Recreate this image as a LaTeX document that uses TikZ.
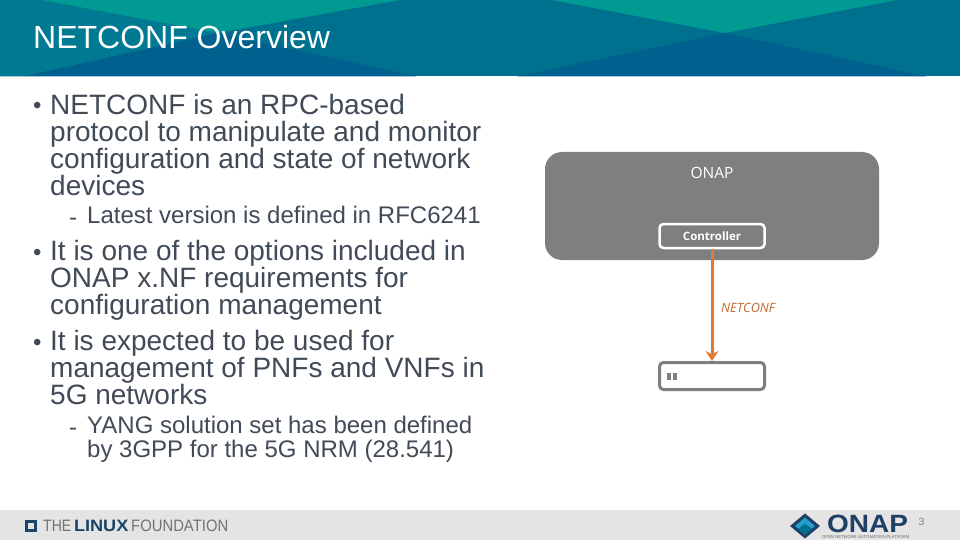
\documentclass[tikz,border=0pt]{standalone}
\usepackage{fontspec}
\setmainfont{Liberation Sans}
\newfontfamily\uifont{Open Sans}
\usepackage{tikz}
\usetikzlibrary{arrows.meta}
\definecolor{hdrbase}{HTML}{00708F}
\definecolor{hdrside}{HTML}{007A92}
\definecolor{hdrlight}{HTML}{009A93}
\definecolor{hdrdark}{HTML}{00608E}
\definecolor{slate}{HTML}{414B57}
\definecolor{boxgray}{HTML}{7F7F7F}
\definecolor{footgray}{HTML}{E4E4E4}
\definecolor{arroworange}{HTML}{E07B35}
\definecolor{lfblue}{HTML}{17456B}
\definecolor{onapnavy}{HTML}{1F3F66}

\begin{document}
\begin{tikzpicture}[x=1pt,y=-1pt,
    body/.style={inner sep=0, anchor=north west, align=left, text=slate, font=\fontsize{28}{27}\selectfont},
    sub/.style={inner sep=0, anchor=north west, align=left, text=slate, font=\fontsize{24}{24}\selectfont},
    bulletmark/.style={inner sep=0, anchor=base west, text=slate, font=\fontsize{24}{24}\selectfont},
    dashmark/.style={inner sep=0, anchor=base west, text=slate, font=\fontsize{24}{24}\selectfont},
    devicebox/.style={draw=boxgray, line width=3pt, rounded corners=4pt, minimum width=105pt, inner sep=0},
    ]
    \useasboundingbox (0,0) rectangle (960,540);
    % Header
    \fill[hdrbase] (0,0) rectangle (960,76.5);
    \fill[hdrside] (0,0) -- (42,0) -- (218,33) -- (23,76.5) -- (0,76.5) -- cycle;
    \fill[hdrlight] (42,0) -- (400,0) -- (218,33) -- cycle;
    \fill[hdrlight] (552,0) -- (897,0) -- (725,33) -- cycle;
    \fill[hdrdark] (23,76.5) -- (218,33) -- (417,76.5) -- cycle;
    \fill[hdrdark] (517,76.5) -- (725,33) -- (927,76.5) -- cycle;
    \node[inner sep=0, anchor=west, text=white, font=\fontsize{32}{32}\selectfont] (title) at (33,37) {NETCONF Overview};
    % Text
    \node[bulletmark] (m1) at (33,114) {•};
    \node[body] (t1) at (50,94.5) {NETCONF is an RPC-based\\protocol to manipulate and monitor\\configuration and state of network\\devices};
    \node[dashmark] (d1) at (69,225) {-};
    \node[sub] (s1) at (87,206) {Latest version is defined in RFC6241};
    \node[bulletmark] (m2) at (33,260) {•};
    \node[body] (t2) at (50,240.5) {It is one of the options included in\\ONAP x.NF requirements for\\configuration management};
    \node[bulletmark] (m3) at (33,350) {•};
    \node[body] (t3) at (50,330.5) {It is expected to be used for\\management of PNFs and VNFs in\\5G networks};
    \node[dashmark] (d2) at (69,435) {-};
    \node[sub] (s2) at (87,416) {YANG solution set has been defined\\by 3GPP for the 5G NRM (28.541)};
    % Diagram
    \node[fill=boxgray, rounded corners=17pt, minimum width=334pt, minimum height=108pt, inner sep=0] (onap) at (712,206) {};
    \node[text=white, inner sep=0, font=\uifont\fontsize{15.5}{16}\selectfont] (onaplabel) at (712,172.5) {ONAP};
    \node[draw=white, line width=2.5pt, fill=boxgray, rounded corners=4pt, minimum width=105pt, minimum height=24pt, inner sep=0, text=white, font=\uifont\bfseries\fontsize{11.5}{12}\selectfont] (controller) at (712,236) {Controller};
    \node[devicebox, fill=white, minimum height=27pt] (device) at (712,376) {};
    \fill[boxgray] (666.5,373) rectangle (670.5,380);
    \fill[boxgray] (673,373) rectangle (677,380);
    \draw[arroworange, line width=3pt, -{Stealth[length=10pt,width=13pt]}] (controller) -- (device);
    \node[anchor=west, inner sep=0, text=arroworange!85!black, font=\uifont\itshape\fontsize{12.8}{13}\selectfont] (netconf) at (721,308) {NETCONF};
    % Footer
    \fill[footgray] (0,510) rectangle (960,540);
    \draw[lfblue, line width=2.5pt] (26.5,521.5) rectangle (35.5,530.5);
    \node[anchor=west, inner sep=0, font=\fontsize{16.5}{17}\selectfont] (lf) at (43,526) {\textcolor{black!55}{\scalebox{0.85}[1]{THE}}\,\textcolor{lfblue}{\scalebox{1.1}[1]{\textbf{LINUX}}}\,\textcolor{black!55}{\scalebox{0.9}[1]{FOUNDATION}}};
    \fill[onapnavy] (790,526) -- (805,513.5) -- (820,526) -- (805,538.5) -- cycle;
    \fill[cyan!60!hdrlight] (795,526) -- (805,517.5) -- (815,526) -- (805,534.5) -- cycle;
    \fill[hdrbase] (798,529) -- (805,523.5) -- (812,529) -- (805,534.5) -- cycle;
    \node[anchor=west, inner sep=0, text=onapnavy, text depth=0pt, font=\bfseries\fontsize{25}{25}\selectfont] (logo) at (827,523.5) {\scalebox{1.12}[1]{ONAP}};
    \node[anchor=west, inner sep=0, text=black!60, font=\fontsize{4.2}{4.2}\selectfont] (logosub) at (822,537.5) {OPEN NETWORK AUTOMATION PLATFORM};
    \node[inner sep=0, text=black!50, font=\fontsize{10.5}{10.5}\selectfont] (page) at (921.5,522) {3};
\end{tikzpicture}
\end{document}
